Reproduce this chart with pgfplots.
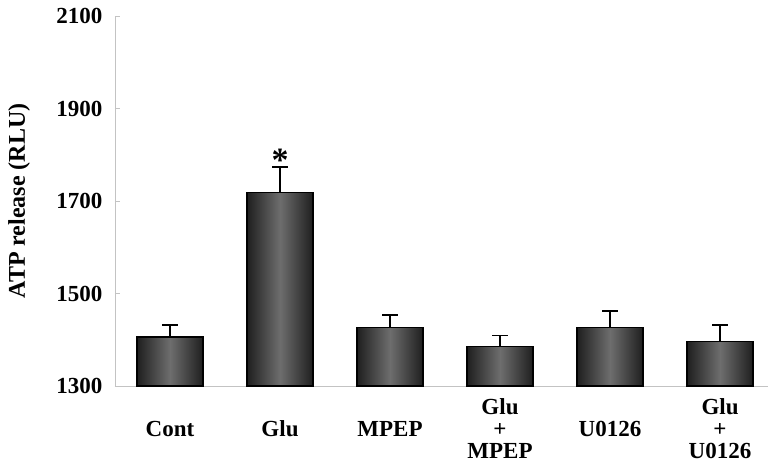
\documentclass[border=0pt]{standalone}
\usepackage{pgfplots}
\pgfplotsset{compat=1.18}
\usepackage{fontspec}
\setmainfont{Liberation Serif}
\definecolor{axgray}{RGB}{195,195,195}
\pgfplotsset{gbar/.style={ybar, bar width=0.6, bar shift=0pt, draw=black, line width=1.2pt,
  left color=black!88, right color=black!88, middle color=black!57}}
\begin{document}
\begin{tikzpicture}
\begin{axis}[
  scale only axis,
  width=653pt, height=370pt,
  xmin=-0.5, xmax=5.436,
  ymin=1300, ymax=2100,
  ytick={1300,1500,1700,1900,2100},
  xtick={0,1,2,3,4,5},
  xticklabels={Cont,Glu,MPEP,{Glu\\+\\MPEP},U0126,{Glu\\+\\U0126}},
  minor xtick={0.5,1.5,2.5,3.5,4.5},
  axis x line*=bottom, axis y line*=left,
  axis line style={axgray, line width=0.8pt},
  tick align=inside,
  major tick length=5pt, minor tick length=5pt,
  xtick style={draw=none},
  minor x tick style={axgray, line width=0.8pt},
  ytick style={axgray, line width=0.8pt},
  clip=false,
  /pgf/number format/assume math mode=true,
  /pgf/number format/set thousands separator={},
  yticklabel style={font=\bfseries\fontsize{23}{25}\selectfont, xshift=-9pt},
  xticklabel style={font=\bfseries\fontsize{23}{22}\selectfont, align=center, anchor=center, yshift=-43pt},
  ylabel={ATP release (RLU)},
  ylabel style={font=\bfseries\fontsize{24}{26}\selectfont, at={(axis description cs:-0.147,0.5)}, anchor=center},
]
\addplot[gbar] coordinates {(0,1406)};
\addplot[gbar] coordinates {(1,1719)};
\addplot[gbar] coordinates {(2,1426)};
\addplot[gbar] coordinates {(3,1386)};
\addplot[gbar] coordinates {(4,1426)};
\addplot[gbar] coordinates {(5,1396)};
\addplot[draw=none, mark=none, forget plot,
  error bars/.cd, y dir=plus, y explicit,
  error bar style={black, line width=1.6pt},
  error mark options={black, line width=1.6pt, mark size=8pt, rotate=90}]
  coordinates {(0,1406) +- (0,26) (1,1719) +- (0,55) (2,1426) +- (0,27) (3,1386) +- (0,23) (4,1426) +- (0,36) (5,1396) +- (0,36)};
\node[anchor=base, yshift=-5pt, font=\bfseries\fontsize{34}{34}\selectfont] at (axis cs:1,1774) {*};
\coordinate (bl) at (axis description cs:-0.1761,-0.2189);
\coordinate (tr) at (axis description cs:1,1.0432);
\end{axis}
\pgfresetboundingbox
\path (bl) rectangle (tr);
\end{tikzpicture}
\end{document}
